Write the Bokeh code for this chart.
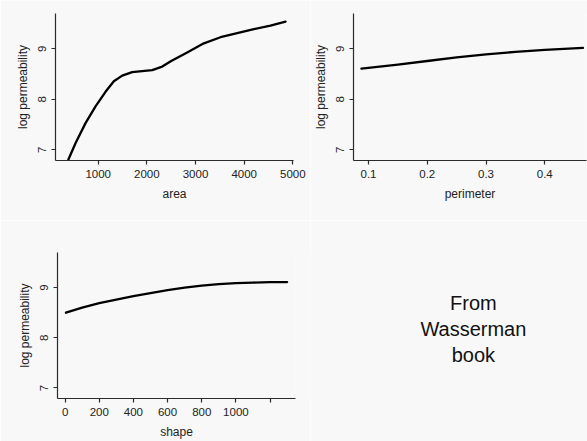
from bokeh.plotting import figure
from bokeh.layouts import row, column
from bokeh.models import Range1d, FixedTicker, Label
from bokeh.embed import file_html
from bokeh.resources import INLINE

# ---- data ----
area_x = [330, 383, 533, 739, 945, 1150, 1321, 1493, 1699, 1904, 2110, 2316, 2500, 2829, 3171, 3514, 3857, 4198, 4541, 4850]
area_y = [6.70, 6.80, 7.13, 7.53, 7.86, 8.15, 8.36, 8.47, 8.54, 8.56, 8.58, 8.65, 8.76, 8.93, 9.11, 9.23, 9.31, 9.39, 9.46, 9.54]

perim_x = [0.088, 0.15, 0.2, 0.25, 0.3, 0.35, 0.4, 0.465]
perim_y = [8.61, 8.69, 8.76, 8.83, 8.89, 8.94, 8.98, 9.02]

shape_x = [5, 100, 200, 300, 400, 500, 600, 700, 800, 900, 1000, 1100, 1200, 1300]
shape_y = [8.50, 8.60, 8.69, 8.76, 8.83, 8.89, 8.95, 9.00, 9.04, 9.07, 9.09, 9.10, 9.11, 9.11]

area_ticks = [1000, 2000, 3000, 4000, 5000]
perim_ticks = [0.1, 0.2, 0.3, 0.4]
shape_ticks = [0, 200, 400, 600, 800, 1000, 1200]
shape_tick_labels = {0: "0", 200: "200", 400: "400", 600: "600", 800: "800", 1000: "1000", 1200: ""}
y_ticks = [7, 8, 9]

y_label = "log permeability"
note_text = "From\nWasserman\nbook"

BG = "#f8f8f8"
AX = "#2a2a2a"
FONT = "Liberation Sans"


def panel(xs, ys, xr, xticks, xlabel, width, height, bl, br, bt, bb, overrides=None):
    p = figure(width=width, height=height, output_backend="svg", toolbar_location=None,
               x_range=Range1d(*xr), y_range=Range1d(6.79, 9.70),
               min_border_left=bl, min_border_right=br, min_border_top=bt, min_border_bottom=bb)
    p.background_fill_color = BG
    p.border_fill_color = BG
    p.outline_line_color = None
    p.grid.visible = False
    p.line(xs, ys, line_color="black", line_width=2.3, line_cap="round", line_join="round")
    p.xaxis.ticker = FixedTicker(ticks=xticks)
    p.yaxis.ticker = FixedTicker(ticks=y_ticks)
    if overrides:
        p.xaxis.major_label_overrides = overrides
    p.xaxis.axis_label = xlabel
    p.yaxis.axis_label = y_label
    p.yaxis.major_label_orientation = "vertical"
    for ax in (p.xaxis[0], p.yaxis[0]):
        ax.axis_line_color = AX
        ax.axis_line_width = 1.2
        ax.major_tick_line_color = AX
        ax.major_tick_line_width = 1.2
        ax.major_tick_in = 0
        ax.major_tick_out = 4
        ax.minor_tick_line_color = None
        ax.major_label_standoff = 5
        ax.axis_label_standoff = 6
        ax.major_label_text_font = FONT
        ax.major_label_text_font_size = "11.5px"
        ax.major_label_text_color = "#222222"
        ax.axis_label_text_font = FONT
        ax.axis_label_text_font_size = "12px"
        ax.axis_label_text_font_style = "normal"
        ax.axis_label_text_color = "#222222"
    return p


p1 = panel(area_x, area_y, (122, 5014), area_ticks, "area", 310, 220, 55, 17, 13, 60)
p2 = panel(perim_x, perim_y, (0.0745, 0.471), perim_ticks, "perimeter", 277, 220, 42, 1, 13, 60)
p3 = panel(shape_x, shape_y, (-44.4, 1349), shape_ticks, "shape", 310, 221, 57, 15, 32, 42,
           overrides=shape_tick_labels)

p4 = figure(width=277, height=221, output_backend="svg", toolbar_location=None,
            x_range=Range1d(0, 1), y_range=Range1d(0, 1), min_border=0,
            x_axis_type=None, y_axis_type=None)
p4.background_fill_color = BG
p4.border_fill_color = BG
p4.outline_line_color = None
p4.grid.visible = False
p4.add_layout(Label(x=0.588, y=0.475, text=note_text, text_align="center", text_baseline="middle",
                    text_font=FONT, text_font_size="20px", text_color="#111111", text_line_height=1.17))

layout = column(row(p1, p2), row(p3, p4))

with open("out.html", "w") as f:
    f.write(file_html(layout, INLINE))
